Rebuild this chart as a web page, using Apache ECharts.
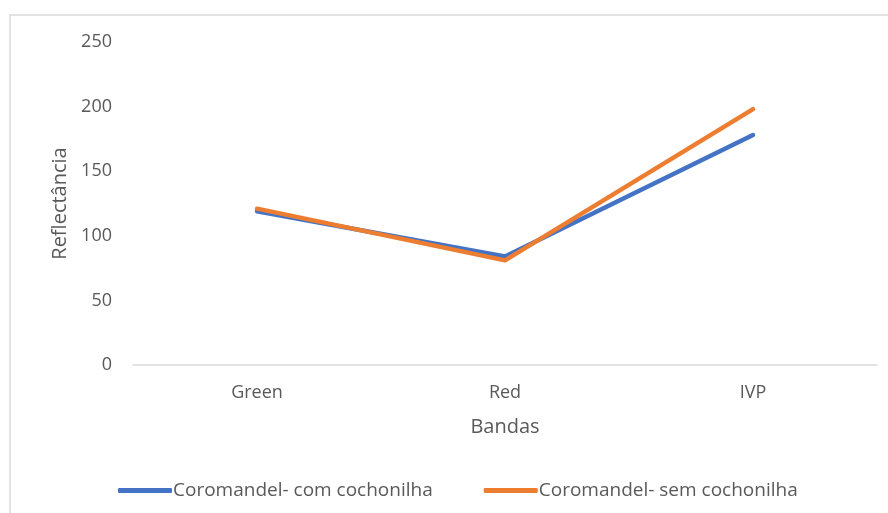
<!DOCTYPE html>
<html>
<head>
<meta charset="utf-8">
<script src="https://cdn.jsdelivr.net/npm/echarts@6/dist/echarts.min.js"></script>
<style>
  html, body { margin: 0; padding: 0; background: #fff; }
  #chart { width: 888px; height: 513px; }
</style>
</head>
<body>
<div id="chart"></div>
<script>
// Spectral bands and reflectance values
const bands = ['Green', 'Red', 'IVP'];
const comCochonilha = [119, 84, 178];
const semCochonilha = [121, 81, 198];
const seriesNames = ['Coromandel- com cochonilha', 'Coromandel- sem cochonilha'];

const FONT = '"Open Sans", "Noto Sans", sans-serif';
const GREY = '#595959';
const chart = echarts.init(document.getElementById('chart'), null, { renderer: 'canvas' });

chart.setOption({
  backgroundColor: '#ffffff',
  animation: false,
  textStyle: { fontFamily: FONT },
  graphic: [{
    type: 'rect',
    shape: { x: 10, y: 15, width: 900, height: 520 },
    style: { fill: 'none', stroke: '#d9d9d9', lineWidth: 1.5 },
    silent: true
  }],
  grid: { left: 133, right: 11, top: 42, bottom: 148, containLabel: false },
  legend: {
    left: 113, top: 476,
    itemWidth: 54, itemHeight: 5,
    itemGap: 51,
    icon: 'roundRect',
    textStyle: { color: GREY, fontSize: 19, fontFamily: FONT, padding: [0, 0, 0, -4] },
    data: seriesNames
  },
  xAxis: {
    type: 'category',
    data: bands,
    boundaryGap: true,
    name: 'Bandas',
    nameLocation: 'middle',
    nameGap: 52,
    nameTextStyle: { color: GREY, fontSize: 20, fontFamily: FONT },
    axisLine: { show: true, lineStyle: { color: '#d9d9d9', width: 1.5 } },
    axisTick: { show: false },
    axisLabel: { color: GREY, fontSize: 18, margin: 19, fontFamily: FONT }
  },
  yAxis: {
    type: 'value',
    min: 0, max: 250, interval: 50,
    name: 'Reflectância',
    nameLocation: 'middle',
    nameGap: 63,
    nameTextStyle: { color: GREY, fontSize: 20, fontFamily: FONT },
    axisLine: { show: false },
    axisTick: { show: false },
    splitLine: { show: false },
    axisLabel: { color: GREY, fontSize: 18, margin: 21, fontFamily: FONT }
  },
  series: [
    {
      name: seriesNames[0], type: 'line', data: comCochonilha,
      symbol: 'none',
      color: '#4472C4',
      lineStyle: { width: 4.5, color: '#4472C4', cap: 'round', join: 'round' }
    },
    {
      name: seriesNames[1], type: 'line', data: semCochonilha,
      symbol: 'none',
      color: '#ED7D31',
      lineStyle: { width: 4.5, color: '#ED7D31', cap: 'round', join: 'round' }
    }
  ]
});
</script>
</body>
</html>
